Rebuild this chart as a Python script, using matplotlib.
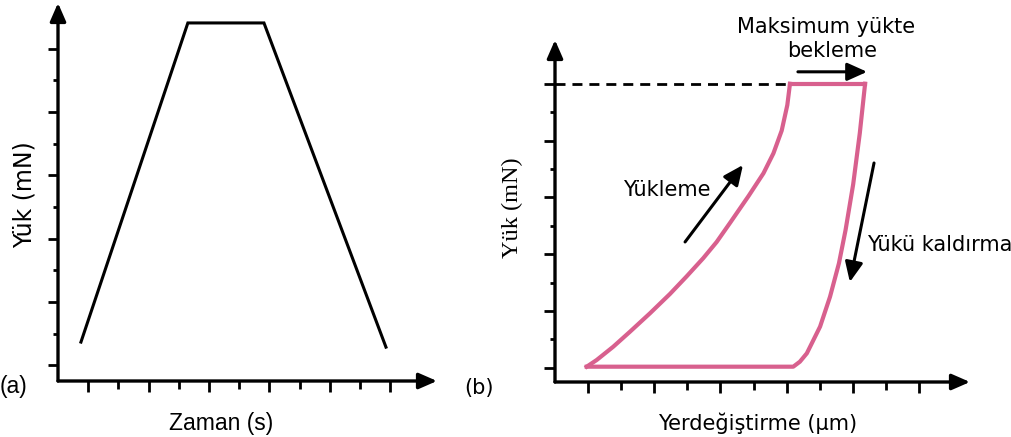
import matplotlib
matplotlib.use("Agg")
import matplotlib.pyplot as plt
from matplotlib.ticker import FixedLocator

# ---------------- data ----------------
# (a) load vs time (arbitrary units)
time_a = [0.76, 4.30, 6.82, 10.86]
load_a = [1.23, 11.31, 11.31, 1.07]

# (b) load vs displacement (arbitrary units)
load_disp = [0.958, 1.26, 1.761, 2.266, 2.87, 3.474, 3.979, 4.48, 4.885, 5.30, 5.85, 6.30, 6.60, 6.85, 7.02, 7.10]
load_load = [0.539, 0.775, 1.243, 1.771, 2.419, 3.10, 3.72, 4.36, 4.93, 5.62, 6.55, 7.35, 8.05, 8.85, 9.75, 10.50]
hold_disp = [7.10, 9.37]
hold_load = [10.50, 10.50]
unload_disp = [9.37, 9.21, 9.01, 8.78, 8.58, 8.31, 8.01, 7.61, 7.40, 7.20, 0.958]
unload_load = [10.50, 8.76, 6.96, 5.35, 4.18, 3.00, 1.95, 1.01, 0.715, 0.539, 0.539]

# tick positions
x_major = [1, 3, 5, 7, 9, 11]
x_minor = [2, 4, 6, 8, 10]
y_major = [0.5, 2.5, 4.5, 6.5, 8.5, 10.5]
y_minor = [1.5, 3.5, 5.5, 7.5, 9.5]

# annotation arrows (b): (x0, y0, x1, y1)
arrow_hold = (7.34, 10.92, 9.43, 10.92)
arrow_load = (3.93, 4.93, 5.68, 7.64)
arrow_unload = (9.64, 7.71, 8.91, 3.52)

PINK = "#d8608e"
W, H = 1012, 437

fig = plt.figure(figsize=(W / 100, H / 100), dpi=100)


def px_axes(x0, y0, x1, y1):
    # x0,y0 = origin pixel (bottom-left), x1 = right tip, y1 = top tip
    return fig.add_axes([x0 / W, (H - y0) / H, (x1 - x0) / W, (y0 - y1) / H])


def style_axes(ax, xmax, ymax, xmaj_len, xmin_len, ymaj_len, ymin_len):
    ax.set_xlim(0, xmax)
    ax.set_ylim(0, ymax)
    for s in ax.spines.values():
        s.set_visible(False)
    ax.xaxis.set_major_locator(FixedLocator(x_major))
    ax.xaxis.set_minor_locator(FixedLocator(x_minor))
    ax.yaxis.set_major_locator(FixedLocator(y_major))
    ax.yaxis.set_minor_locator(FixedLocator(y_minor))
    ax.tick_params(axis="x", which="major", direction="out", length=xmaj_len, width=2.0,
                   labelbottom=False)
    ax.tick_params(axis="x", which="minor", direction="out", length=xmin_len, width=2.0)
    ax.tick_params(axis="y", which="major", direction="out", length=ymaj_len, width=2.0,
                   labelleft=False)
    ax.tick_params(axis="y", which="minor", direction="out", length=ymin_len, width=2.0)
    ax.patch.set_alpha(0)
    ap = dict(arrowstyle="-|>,head_length=0.55,head_width=0.24", lw=2.4, color="black",
              shrinkA=0, shrinkB=0, mutation_scale=20)
    ax.annotate("", xy=(1, 0), xytext=(0, 0), xycoords="axes fraction",
                textcoords="axes fraction", arrowprops=ap, annotation_clip=False)
    ax.annotate("", xy=(0, 1), xytext=(0, 0), xycoords="axes fraction",
                textcoords="axes fraction", arrowprops=ap, annotation_clip=False)


# ---------------- panel (a) ----------------
axa = px_axes(58, 381, 437, 3)
style_axes(axa, 12.55, 11.94, 8, 5.5, 7.2, 3.6)
axa.plot(time_a, load_a, color="black", lw=2.2, solid_joinstyle="miter", clip_on=False)

fig.text(25 / W, 1 - 195 / H, "Yük (mN)", rotation=90, ha="center", va="center",
         fontsize=17, family=["DejaVu Sans"])
fig.text(221.5 / W, 1 - 430 / H, "Zaman (s)", ha="center", va="baseline",
         fontsize=16.5, family=["Liberation Sans", "DejaVu Sans"])
fig.text(0 / W, 1 - 386 / H, "(a)", ha="left", va="center",
         fontsize=16.5, family=["Liberation Sans", "DejaVu Sans"])

# ---------------- panel (b) ----------------
axb = px_axes(555, 382, 970, 40)
style_axes(axb, 12.54, 12.04, 8, 5.8, 8, 3.6)

axb.plot([0, hold_disp[0]], [hold_load[0], hold_load[0]], color="black", lw=2.0,
         dashes=(3.6, 2.5), clip_on=False)
axb.plot(load_disp, load_load, color=PINK, lw=3.0, solid_joinstyle="round", clip_on=False)
axb.plot(hold_disp, hold_load, color=PINK, lw=3.0, clip_on=False)
axb.plot(unload_disp, unload_load, color=PINK, lw=3.0, solid_joinstyle="round", clip_on=False)

ap2 = dict(arrowstyle="-|>,head_length=0.6,head_width=0.27", lw=2.2, color="black",
           shrinkA=0, shrinkB=0, mutation_scale=20)
for (x0, y0, x1, y1) in (arrow_hold, arrow_load, arrow_unload):
    axb.annotate("", xy=(x1, y1), xytext=(x0, y0), arrowprops=ap2, annotation_clip=False)

axb.text(2.05, 6.56, "Yükleme", ha="left", va="baseline", fontsize=15)
axb.text(9.43, 4.62, "Yükü kaldırma", ha="left", va="baseline", fontsize=15)
fig.text(826 / W, 1 - 33.3 / H, "Maksimum yükte", ha="center", va="baseline", fontsize=15)
fig.text(832 / W, 1 - 57.3 / H, "bekleme", ha="center", va="baseline", fontsize=15)

fig.text(512 / W, 1 - 208 / H, "Yük (mN)", rotation=90, ha="center", va="center",
         fontsize=17.5, family=["Liberation Serif", "DejaVu Serif"])
fig.text(758 / W, 1 - 423 / H, "Yerdeğiştirme (μm)", ha="center", va="center", fontsize=15)
fig.text(479 / W, 1 - 388 / H, "(b)", ha="center", va="center", fontsize=15)

fig.savefig("out.png", dpi=100)
